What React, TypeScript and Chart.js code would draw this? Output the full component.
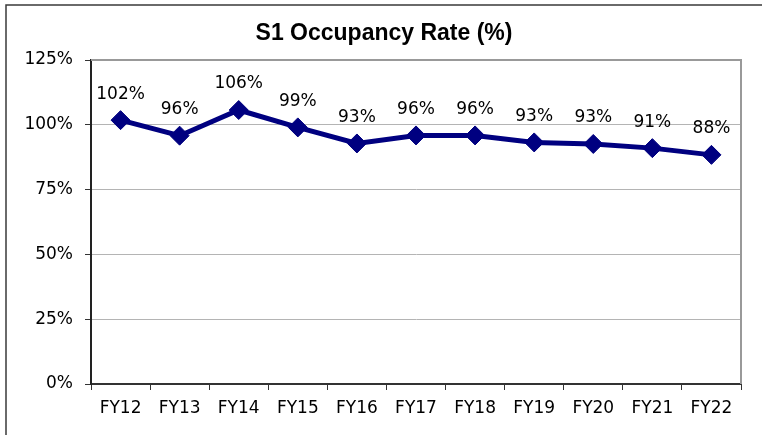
import React, { useEffect, useRef } from "react";
import { Chart, registerables } from "chart.js";

Chart.register(...registerables);

const categories = ["FY12", "FY13", "FY14", "FY15", "FY16", "FY17", "FY18", "FY19", "FY20", "FY21", "FY22"];
const occupancy = [101.8, 95.8, 105.7, 99.0, 92.8, 95.9, 95.9, 93.2, 92.6, 91.0, 88.4];
const yTicks = [0, 25, 50, 75, 100, 125];
const titleText = "S1 Occupancy Rate (%)";

const FONT = "'DejaVu Sans', 'Liberation Sans', Arial, sans-serif";

const decorPlugin = {
  id: "decor",
  beforeDraw(chart: any) {
    const ctx = chart.ctx;
    ctx.save();
    ctx.fillStyle = "#ffffff";
    ctx.fillRect(0, 0, chart.width, chart.height);
    // outer border (left + top)
    ctx.strokeStyle = "#3a3a3a";
    ctx.lineWidth = 1.5;
    ctx.beginPath();
    ctx.moveTo(6, chart.height);
    ctx.lineTo(6, 5);
    ctx.lineTo(chart.width, 5);
    ctx.stroke();
    // title
    ctx.fillStyle = "#000";
    ctx.font = "bold 23px 'Liberation Sans Narrow', 'Liberation Sans', Arial, sans-serif";
    ctx.textAlign = "center";
    ctx.textBaseline = "middle";
    const a = chart.chartArea;
    ctx.fillText(titleText, (a.left + a.right) / 2 - 32, 34);
    ctx.restore();
  },
  afterDraw(chart: any) {
    const ctx = chart.ctx;
    const a = chart.chartArea;
    ctx.save();
    ctx.strokeStyle = "#999999";
    ctx.lineWidth = 2;
    ctx.beginPath();
    ctx.moveTo(a.left, a.top);
    ctx.lineTo(a.right, a.top);
    ctx.lineTo(a.right, a.bottom);
    ctx.stroke();
    ctx.restore();
  },
  afterDatasetsDraw(chart: any) {
    const ctx = chart.ctx;
    const meta = chart.getDatasetMeta(0);
    const data = chart.data.datasets[0].data as number[];
    ctx.save();
    ctx.fillStyle = "#000";
    ctx.font = `17px ${FONT}`;
    ctx.textAlign = "center";
    ctx.textBaseline = "middle";
    meta.data.forEach((pt: any, i: number) => {
      ctx.fillText(`${Math.round(data[i])}%`, pt.x, pt.y - 26);
    });
    ctx.restore();
  },
};

export default function App() {
  const ref = useRef<HTMLCanvasElement | null>(null);
  useEffect(() => {
    if (!ref.current) return;
    const chart = new Chart(ref.current, {
      type: "line",
      data: {
        labels: categories,
        datasets: [
          {
            data: occupancy,
            borderColor: "#000080",
            backgroundColor: "#000080",
            borderWidth: 5,
            pointStyle: "rectRot",
            pointRadius: 9.5,
            pointBorderWidth: 1,
            pointBackgroundColor: "#000080",
            pointBorderColor: "#000080",
            tension: 0,
          },
        ],
      },
      options: {
        animation: false,
        responsive: false,
        maintainAspectRatio: false,
        layout: { padding: { left: 6, top: 60, right: 21, bottom: 0 } },
        plugins: {
          legend: { display: false },
          title: { display: false },
          tooltip: { enabled: false },
        },
        scales: {
          x: {
            offset: true,
            afterFit: (s: any) => {
              s.height = 51;
            },
            grid: {
              offset: true,
              drawOnChartArea: false,
              drawTicks: true,
              tickLength: 6,
              color: "#333",
              tickColor: "#333",
            },
            border: { color: "#333", width: 2 },
            ticks: {
              color: "#000",
              font: { family: FONT, size: 17 },
              padding: 8,
              maxRotation: 0,
              autoSkip: false,
            },
          },
          y: {
            min: 0,
            max: 125,
            afterFit: (s: any) => {
              s.width = 85;
            },
            afterBuildTicks: (s: any) => {
              s.ticks = yTicks.map((v) => ({ value: v }));
            },
            grid: {
              color: "#b4b4b4",
              lineWidth: 1,
              drawTicks: true,
              tickLength: 6,
              tickColor: "#333",
            },
            border: { color: "#222", width: 2 },
            ticks: {
              color: "#000",
              font: { family: FONT, size: 17 },
              padding: 12,
              callback: (v: any) => `${v}%`,
            },
          },
        },
      },
      plugins: [decorPlugin],
    });
    return () => chart.destroy();
  }, []);
  return (
    <div style={{ position: "absolute", left: 0, top: 0, width: 762, height: 435 }}>
      <canvas ref={ref} width={762} height={435} style={{ width: 762, height: 435, display: "block" }} />
    </div>
  );
}
